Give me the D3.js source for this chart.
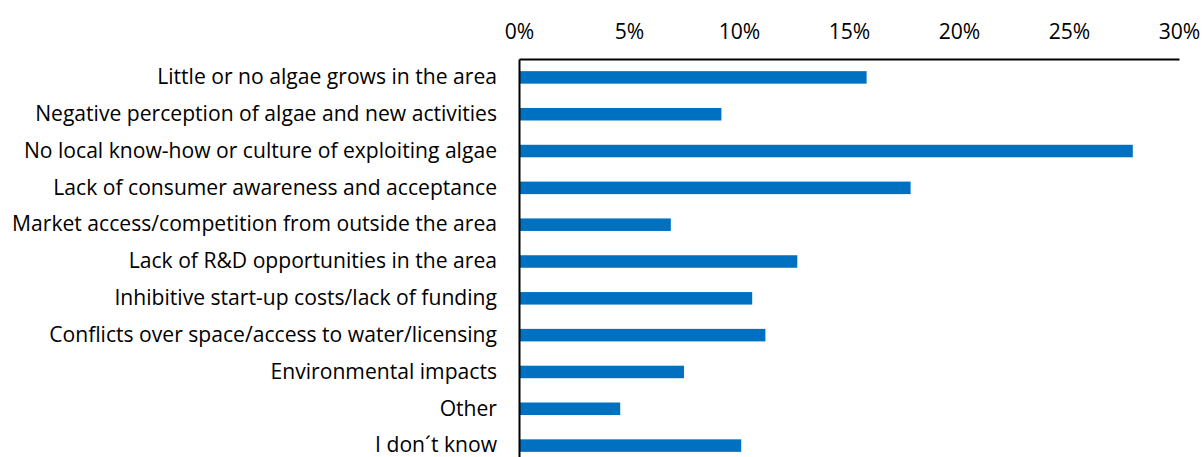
<!DOCTYPE html>
<html><head><meta charset="utf-8">
<script src="https://cdn.jsdelivr.net/npm/d3@7"></script>
<style>body{margin:0;background:#fff}svg{display:block}</style>
</head><body>
<svg id="c" width="1202" height="457"></svg>
<script>
const categories = [
  "Little or no algae grows in the area",
  "Negative perception of algae and new activities",
  "No local know-how or culture of exploiting algae",
  "Lack of consumer awareness and acceptance",
  "Market access/competition from outside the area",
  "Lack of R&D opportunities in the area",
  "Inhibitive start-up costs/lack of funding",
  "Conflicts over space/access to water/licensing",
  "Environmental impacts",
  "Other",
  "I don\u00B4t know"
];
const values = [15.8, 9.2, 27.9, 17.8, 6.9, 12.65, 10.6, 11.2, 7.5, 4.6, 10.1];
const tickValues = [0, 5, 10, 15, 20, 25, 30];

const svg = d3.select("#c");
const font = "'Open Sans', 'Noto Sans', sans-serif";
const x = d3.scaleLinear().domain([0, 30]).range([519, 1179]);
const y = d3.scaleBand().domain(categories).range([59, 464]).paddingInner(0.66).paddingOuter(0.33);

// bars
svg.append("g").selectAll("rect").data(values).join("rect")
  .attr("x", x(0))
  .attr("y", (d, i) => y(categories[i]))
  .attr("width", d => x(d) - x(0))
  .attr("height", y.bandwidth())
  .attr("fill", "#0070C0");

// top axis
const xAxis = svg.append("g").attr("transform", "translate(0,59)")
  .call(d3.axisTop(x).tickValues(tickValues).tickFormat(d => d + "%").tickSize(0).tickPadding(20));
xAxis.select(".domain").attr("stroke", "#000").attr("stroke-width", 2);
xAxis.selectAll("text").attr("font-family", font).attr("font-size", 17).attr("fill", "#000");

// left axis
const yAxis = svg.append("g").attr("transform", "translate(519,0)")
  .call(d3.axisLeft(y).tickSize(0).tickPadding(22));
yAxis.select(".domain").attr("stroke", "#000").attr("stroke-width", 2);
const labels = yAxis.selectAll("text").attr("font-family", font).attr("font-size", 18).attr("fill", "#000");
// fit longest label to reference width
let maxW = 0;
labels.each(function(){ maxW = Math.max(maxW, this.getComputedTextLength()); });
const fs = 18 * 485 / maxW;
labels.attr("font-size", fs);
xAxis.selectAll("text").attr("font-size", fs);
</script>
</body></html>
